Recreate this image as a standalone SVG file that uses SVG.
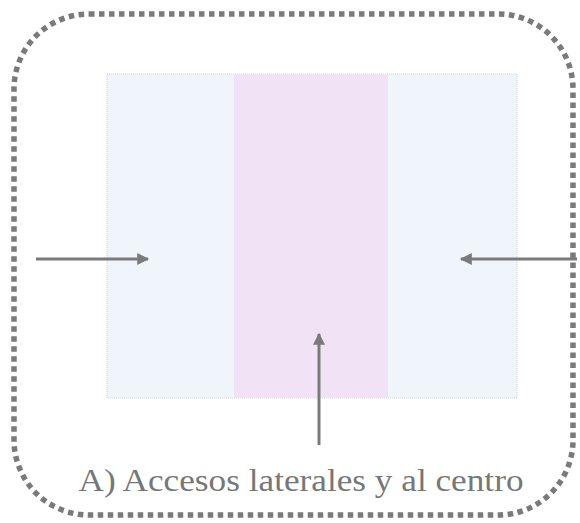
<svg xmlns="http://www.w3.org/2000/svg" width="580" height="523" viewBox="0 0 580 523">
<defs>
<style>
.frame{fill:none;stroke:#7a7a7a;stroke-width:5.5;stroke-dasharray:5.5 4.5}
.conn{stroke:#7a7a7a;stroke-width:3;fill:none}
.lbl{font-family:"Liberation Serif","DejaVu Serif",serif;font-size:32px;fill:#777}
</style>
<marker id="ah" viewBox="0 0 10 10" refX="9" refY="5" markerWidth="4.5" markerHeight="4" orient="auto" markerUnits="strokeWidth">
<path d="M0,0 L10,5 L0,10 Z" fill="#7a7a7a"/>
</marker>
</defs>
<rect class="frame" x="14" y="14" width="559" height="501" rx="75" ry="75"/>
<g id="plan">
<rect x="107" y="74" width="410" height="324" fill="#f0f5fc" stroke="#d0d4da" stroke-width="1" stroke-dasharray="1 1"/>
<rect x="234" y="74.5" width="154" height="323" fill="#f2e2f5"/>
</g>
<g id="connectors">
<line class="conn" x1="36" y1="259" x2="148" y2="259" marker-end="url(#ah)"/>
<line class="conn" x1="577" y1="259" x2="461" y2="259" marker-end="url(#ah)"/>
<line class="conn" x1="319" y1="445" x2="319" y2="334" marker-end="url(#ah)"/>
</g>
<g id="label">
<text class="lbl" x="301" y="491" text-anchor="middle" textLength="445" lengthAdjust="spacingAndGlyphs">A) Accesos laterales y al centro</text>
</g>
</svg>
